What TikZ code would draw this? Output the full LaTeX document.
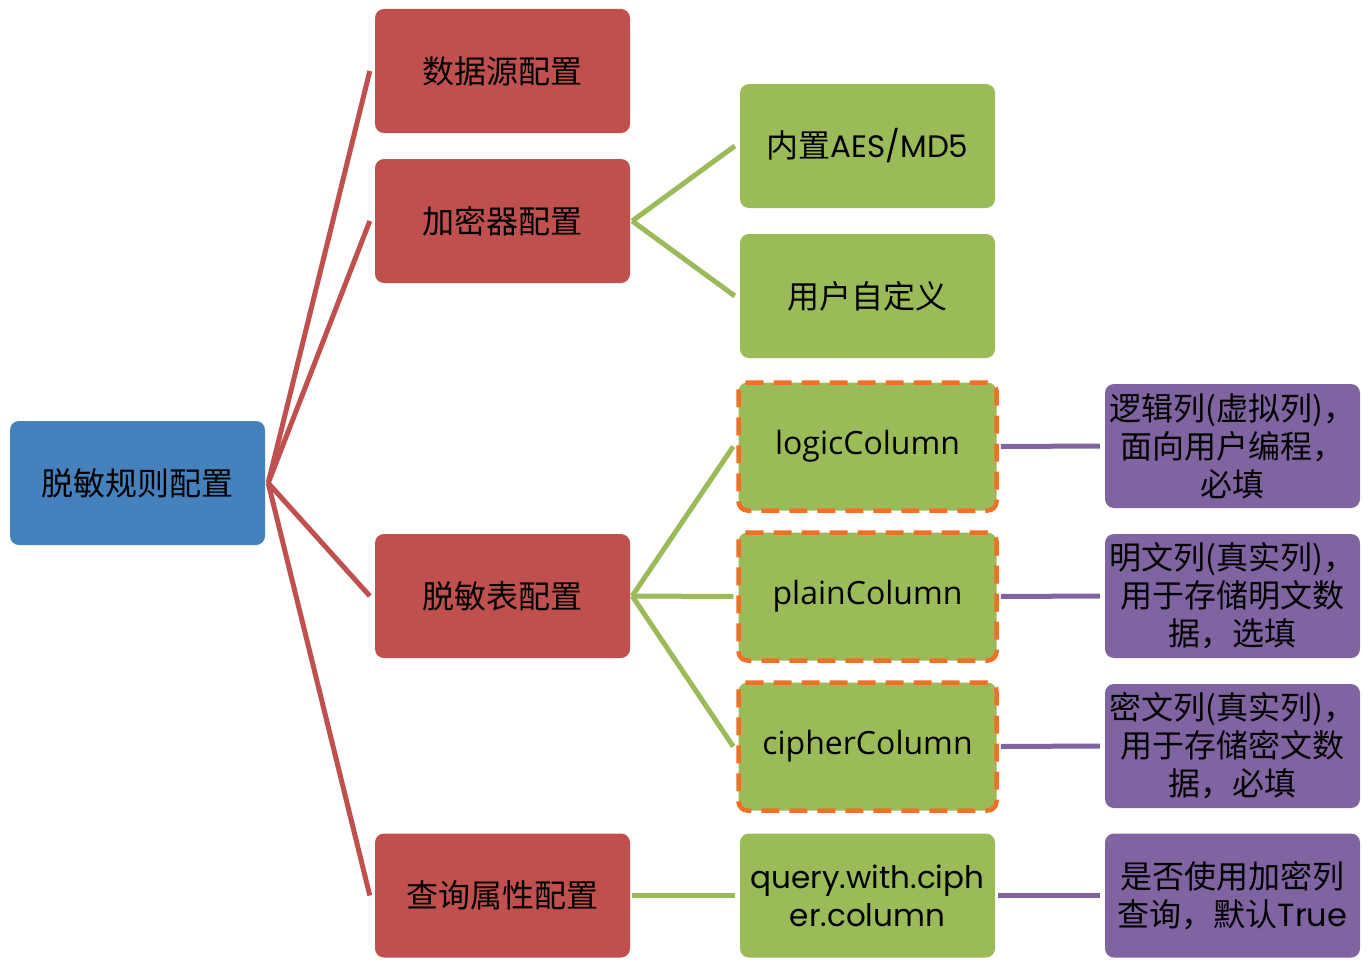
\documentclass[tikz,border=0pt]{standalone}
\usepackage{fontspec}
\setmainfont{Noto Sans CJK SC}
\newfontfamily\latf{Poppins}
\newfontfamily\segf{Open Sans}
\definecolor{cred}{RGB}{192,80,77}
\definecolor{cgreen}{RGB}{155,187,89}
\definecolor{cpurple}{RGB}{128,100,162}
\definecolor{cblue}{RGB}{69,129,189}
\definecolor{corange}{RGB}{240,112,40}
\begin{document}
\begin{tikzpicture}[x=1pt,y=-1pt,
  box/.style={rounded corners=9pt, minimum width=255pt, minimum height=124pt,
    inner sep=0pt, text width=252pt, align=center,
    font=\fontsize{32}{38}\selectfont, text=black},
  rootbox/.style={box, fill=cblue},
  redbox/.style={box, fill=cred},
  greenbox/.style={box, fill=cgreen},
  dashbox/.style={box, fill=cgreen, draw=corange, line width=4.5pt,
    dash pattern=on 18pt off 10pt, minimum width=258pt, minimum height=128pt},
  purplebox/.style={box, fill=cpurple},
  redline/.style={draw=cred, line width=5pt},
  greenline/.style={draw=cgreen, line width=5pt},
  purpleline/.style={draw=cpurple, line width=5pt}
]
\useasboundingbox (0,0) rectangle (1370,966);

\node[rootbox] (root) at (137.5,483) {脱敏规则配置};

\node[redbox] (ds) at (502.5,71) {数据源配置};
\node[redbox] (jm) at (502.5,221) {加密器配置};
\node[redbox] (tm) at (502.5,596) {脱敏表配置};
\node[redbox] (cx) at (502.5,895.5) {查询属性配置};

\node[greenbox] (aes) at (867.5,146) {内置{\latf\fontsize{31}{38}\selectfont AES/MD5}};
\node[greenbox] (zdy) at (867.5,296) {用户自定义};
\node[dashbox] (logic) at (867.5,446.5) {\segf\fontsize{32}{38}\selectfont logicColumn};
\node[dashbox] (plain) at (867.5,596.5) {\segf\fontsize{32}{38}\selectfont plainColumn};
\node[dashbox] (cipher) at (867.5,746.5) {\segf\fontsize{32}{38}\selectfont cipherColumn};
\node[greenbox] (query) at (867.5,895.5) {\latf\fontsize{31}{36}\selectfont query.with.ciph\\er.column};

\node[purplebox] (p1) at (1232.5,446) {逻辑列(虚拟列)，\\面向用户编程，\\必填};
\node[purplebox] (p2) at (1232.5,596) {明文列(真实列)，\\用于存储明文数\\据，选填};
\node[purplebox] (p3) at (1232.5,746) {密文列(真实列)，\\用于存储密文数\\据，必填};
\node[purplebox] (p4) at (1232.5,895.5) {是否使用加密列\\查询，默认{\latf True}};

\coordinate (rs) at ([xshift=3pt]root.east);
\foreach \t in {ds,jm,tm,cx}
  \draw[redline] (rs) -- ([xshift=-5pt]\t.west);

\coordinate (js) at ([xshift=2pt]jm.east);
\draw[greenline] (js) -- ([xshift=-5pt]aes.west);
\draw[greenline] (js) -- ([xshift=-5pt]zdy.west);
\coordinate (ts) at ([xshift=2pt]tm.east);
\draw[greenline] (ts) -- ([xshift=-3pt]logic.west);
\draw[greenline] (ts) -- ([xshift=-3pt]plain.west);
\draw[greenline] (ts) -- ([xshift=-3pt]cipher.west);
\draw[greenline] ([xshift=2pt]cx.east) -- ([xshift=-5pt]query.west);

\draw[purpleline] ([xshift=2pt]logic.east) -- ([xshift=-5pt]p1.west);
\draw[purpleline] ([xshift=2pt]plain.east) -- ([xshift=-5pt]p2.west);
\draw[purpleline] ([xshift=2pt]cipher.east) -- ([xshift=-5pt]p3.west);
\draw[purpleline] ([xshift=3pt]query.east) -- ([xshift=-5pt]p4.west);
\end{tikzpicture}
\end{document}
